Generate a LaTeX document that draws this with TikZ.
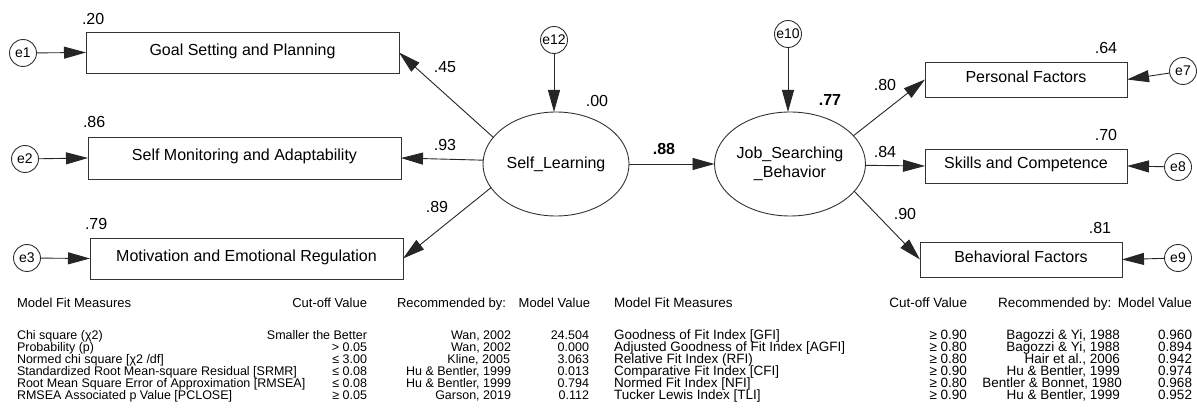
\documentclass[tikz,border=0pt]{standalone}
\usepackage{fontspec}
\setmainfont{Liberation Sans}
\usetikzlibrary{arrows.meta,shapes.geometric}
\begin{document}
\begin{tikzpicture}[x=1pt,y=-1pt,
  every node/.style={inner sep=0pt,outer sep=0pt,text=black},
  lbl/.style={font=\fontsize{16}{19}\selectfont},
  blbl/.style={font=\fontsize{16}{19}\selectfont\bfseries},
  obs/.style={draw=black!80,line width=0.9pt,font=\fontsize{16}{19}\selectfont,text height=0.72em,text depth=0.2em},
  lat/.style={ellipse,draw=black!80,line width=0.9pt,minimum width=146pt,minimum height=104pt,font=\fontsize{16}{19}\selectfont,align=center},
  err/.style={circle,draw=black!80,line width=0.9pt,minimum size=27pt,font=\fontsize{14}{16}\selectfont},
  arr/.style={draw=black!85,line width=0.9pt,-{Triangle[length=22pt,width=12pt]}},
  th/.style={font=\fontsize{13}{14}\selectfont},
  tb/.style={font=\fontsize{12.5}{14}\selectfont},
  rth/.style={font=\fontsize{13.5}{14}\selectfont},
  rtb/.style={font=\fontsize{13.5}{14}\selectfont}
]
\useasboundingbox (0,0) rectangle (1197,419);

% observed boxes
\node[obs,minimum width=313pt,minimum height=41pt] (goal) at (242.5,52.5) {Goal Setting and Planning};
\node[obs,minimum width=313pt,minimum height=42pt] (smon) at (244.5,158) {Self Monitoring and Adaptability};
\node[obs,minimum width=313pt,minimum height=41pt] (mot) at (246.5,258.5) {Motivation and Emotional Regulation};
\node[obs,minimum width=202pt,minimum height=35pt] (pers) at (1026,79.5) {Personal Factors};
\node[obs,minimum width=202pt,minimum height=34pt] (skil) at (1026,166) {Skills and Competence};
\node[obs,minimum width=202pt,minimum height=35pt] (beh) at (1021,259.5) {Behavioral Factors};

% latent
\node[lat] (sl) at (556,164) {Self\_Learning};
\node[lat] (job) at (790,164) {Job\_Searching\\\_Behavior};

% errors
\node[err] (e1) at (23,53) {e1};
\node[err] (e2) at (25,159) {e2};
\node[err] (e3) at (27,258) {e3};
\node[err] (e12) at (554,40) {e12};
\node[err] (e10) at (788,34) {e10};
\node[err] (e7) at (1183,71) {e7};
\node[err] (e8) at (1178,167) {e8};
\node[err] (e9) at (1178,258) {e9};

% connectors
\draw[arr] (e1) -- (goal.west);
\draw[arr] (e2) -- (smon.west);
\draw[arr] (e3) -- (mot.west);
\draw[arr] (e12) -- (e12 |- sl.north);
\draw[arr] (e10) -- (e10 |- job.north);
\draw[arr] (e7) -- (pers.east);
\draw[arr] (e8) -- (skil.east);
\draw[arr] (e9) -- (beh.east);
\draw[arr] (sl.157) -- (goal.east);
\draw[arr] (sl.177) -- (smon.east);
\draw[arr] (sl.200) -- (mot.east);
\draw[arr] (sl.east) -- (job.west);
\draw[arr] (job.24) -- (pers.west);
\draw[arr] (job.-1) -- (skil.west);
\draw[arr] (job.-23) -- (beh.west);

% labels
\node[lbl,anchor=west] (r1) at (82,19) {.20};
\node[lbl,anchor=west] (r2) at (83,122) {.86};
\node[lbl,anchor=west] (r3) at (85,224) {.79};
\node[lbl] (c45) at (445,67) {.45};
\node[lbl] (c93) at (445,145) {.93};
\node[lbl] (c89) at (437,207) {.89};
\node[lbl] (r00) at (597,101) {.00};
\node[blbl] (c88) at (664,149) {.88};
\node[blbl] (r77) at (830,100) {.77};
\node[lbl] (c80) at (885,85) {.80};
\node[lbl] (c84) at (885,152) {.84};
\node[lbl] (c90) at (905,214) {.90};
\node[lbl] (r64) at (1106,48) {.64};
\node[lbl] (r70) at (1106,135) {.70};
\node[lbl] (r81) at (1100,228) {.81};

% left table
\node[th,anchor=base west] (lh1) at (17,308) {Model Fit Measures};
\node[th,anchor=base east] (lh2) at (367,308) {Cut-off Value};
\node[th,anchor=base west] (lh3) at (397,308) {Recommended by:};
\node[th,anchor=base east] (lh4) at (590,308) {Model Value};

\node[tb,anchor=base west] (la1) at (17,340) {Chi square (χ2)};
\node[tb,anchor=base west] (la2) at (17,352) {Probability (p)};
\node[tb,anchor=base west] (la3) at (17,364) {Normed chi square [χ2 /df]};
\node[tb,anchor=base west] (la4) at (17,376) {Standardized Root Mean-square Residual [SRMR]};
\node[tb,anchor=base west] (la5) at (17,388) {Root Mean Square Error of Approximation [RMSEA]};
\node[tb,anchor=base west] (la6) at (17,400) {RMSEA Associated p Value [PCLOSE]};

\node[tb,anchor=base east] (lb1) at (367,340) {Smaller the Better};
\node[tb,anchor=base east] (lb2) at (367,352) {> 0.05};
\node[tb,anchor=base east] (lb3) at (367,364) {≤ 3.00};
\node[tb,anchor=base east] (lb4) at (367,376) {≤ 0.08};
\node[tb,anchor=base east] (lb5) at (367,388) {≤ 0.08};
\node[tb,anchor=base east] (lb6) at (367,400) {≥ 0.05};

\node[tb,anchor=base east] (lc1) at (511,340) {Wan, 2002};
\node[tb,anchor=base east] (lc2) at (511,352) {Wan, 2002};
\node[tb,anchor=base east] (lc3) at (510,364) {Kline, 2005};
\node[tb,anchor=base east] (lc4) at (511,376) {Hu \& Bentler, 1999};
\node[tb,anchor=base east] (lc5) at (511,388) {Hu \& Bentler, 1999};
\node[tb,anchor=base east] (lc6) at (511,400) {Garson, 2019};

\node[tb,anchor=base east] (ld1) at (589,340) {24.504};
\node[tb,anchor=base east] (ld2) at (589,352) {0.000};
\node[tb,anchor=base east] (ld3) at (589,364) {3.063};
\node[tb,anchor=base east] (ld4) at (589,376) {0.013};
\node[tb,anchor=base east] (ld5) at (589,388) {0.794};
\node[tb,anchor=base east] (ld6) at (589,400) {0.112};

% right table
\node[rth,anchor=base west] (rh1) at (614,308) {Model Fit Measures};
\node[rth,anchor=base east] (rh2) at (967,308) {Cut-off Value};
\node[rth,anchor=base west] (rh3) at (998,308) {Recommended by:};
\node[rth,anchor=base east] (rh4) at (1192,308) {Model Value};

\node[rtb,anchor=base west] (ra1) at (614,340) {Goodness of Fit Index [GFI]};
\node[rtb,anchor=base west] (ra2) at (614,352) {Adjusted Goodness of Fit Index [AGFI]};
\node[rtb,anchor=base west] (ra3) at (614,364) {Relative Fit Index (RFI)};
\node[rtb,anchor=base west] (ra4) at (614,376) {Comparative Fit Index [CFI]};
\node[rtb,anchor=base west] (ra5) at (614,388) {Normed Fit Index [NFI]};
\node[rtb,anchor=base west] (ra6) at (614,400) {Tucker Lewis Index [TLI]};

\node[rtb,anchor=base east] (rb1) at (967,340) {≥ 0.90};
\node[rtb,anchor=base east] (rb2) at (967,352) {≥ 0.80};
\node[rtb,anchor=base east] (rb3) at (967,364) {≥ 0.80};
\node[rtb,anchor=base east] (rb4) at (967,376) {≥ 0.90};
\node[rtb,anchor=base east] (rb5) at (967,388) {≥ 0.80};
\node[rtb,anchor=base east] (rb6) at (967,400) {≥ 0.90};

\node[rtb,anchor=base east] (rc1) at (1120,340) {Bagozzi \& Yi, 1988};
\node[rtb,anchor=base east] (rc2) at (1120,352) {Bagozzi \& Yi, 1988};
\node[rtb,anchor=base east] (rc3) at (1120,364) {Hair et al., 2006};
\node[rtb,anchor=base east] (rc4) at (1120,376) {Hu \& Bentler, 1999};
\node[rtb,anchor=base east] (rc5) at (1122,388) {Bentler \& Bonnet, 1980};
\node[rtb,anchor=base east] (rc6) at (1120,400) {Hu \& Bentler, 1999};

\node[rtb,anchor=base east] (rd1) at (1192,340) {0.960};
\node[rtb,anchor=base east] (rd2) at (1192,352) {0.894};
\node[rtb,anchor=base east] (rd3) at (1192,364) {0.942};
\node[rtb,anchor=base east] (rd4) at (1192,376) {0.974};
\node[rtb,anchor=base east] (rd5) at (1192,388) {0.968};
\node[rtb,anchor=base east] (rd6) at (1192,400) {0.952};
\end{tikzpicture}
\end{document}
